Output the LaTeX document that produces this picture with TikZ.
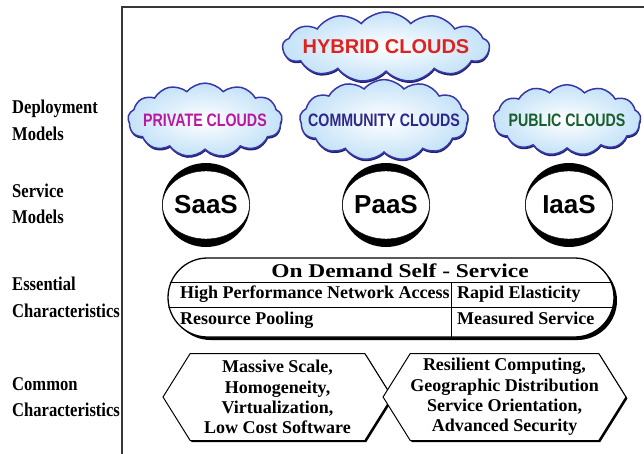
\documentclass[tikz,border=0pt]{standalone}
\usepackage{fontspec}
\setmainfont{Liberation Serif}
\setsansfont{Liberation Sans}
\newfontfamily\sidefont[FakeStretch=0.85]{Liberation Serif}
\newfontfamily\narrowsans[FakeStretch=0.79]{Liberation Sans}
\newfontfamily\widefont[FakeStretch=1.2]{Liberation Serif}
\usetikzlibrary{shapes.symbols,shadows}

\definecolor{hybridred}{RGB}{222,34,30}
\definecolor{privmag}{RGB}{185,25,160}
\definecolor{commblue}{RGB}{45,40,140}
\definecolor{pubgreen}{RGB}{25,95,45}
\definecolor{cloudedge}{RGB}{55,55,170}
\definecolor{cloudfill}{RGB}{196,226,248}
\definecolor{framegray}{RGB}{55,55,55}

\tikzset{
  sidelbl/.style={anchor=base west, align=left, inner sep=0pt,
    font=\sidefont\bfseries\fontsize{19.5}{26.5}\selectfont},
  cloudbox/.style={cloud, cloud puffs=13, cloud puff arc=100,
    draw=cloudedge, line width=1.5pt, inner color=white, outer color=cloudfill,
    drop shadow={shadow xshift=0.5pt, shadow yshift=-2pt, fill=cloudedge!60!black, opacity=1},
    inner ysep=0pt, font=\narrowsans\bfseries\fontsize{18}{20}\selectfont},
  svctext/.style={inner sep=0pt, font=\sffamily\bfseries\fontsize{26}{28}\selectfont},
  esstext/.style={anchor=base west, inner sep=0pt,
    font=\bfseries\fontsize{18}{20}\selectfont},
  hexbox/.style={signal, signal to=west and east, signal pointer angle=116,
    draw, line width=1pt, fill=white, minimum width=229pt, minimum height=87pt,
    inner sep=0pt, align=center,
    drop shadow={shadow xshift=1.5pt, shadow yshift=-1.5pt, fill=black, opacity=1},
    font=\bfseries\fontsize{18}{20.3}\selectfont}
}

\begin{document}
\begin{tikzpicture}[x=1pt,y=-1pt]
\useasboundingbox (0,0) rectangle (644,454);

% Frame
\draw[framegray, line width=2.4pt] (122,454) -- (122,7) -- (644,7);

% Row labels
\node[sidelbl] (deplbl) at (12,140.5) {Deployment\\Models};
\node[sidelbl] (svclbl) at (12,223.5) {Service\\Models};
\node[sidelbl] (esslbl) at (12,317) {Essential\\Characteristics};
\node[sidelbl] (comlbl) at (12,416.5) {Common\\Characteristics};

% Deployment models
\node[cloudbox, aspect=4.3, inner xsep=-10pt, text=hybridred,
  font=\sffamily\bfseries\fontsize{20}{22}\selectfont] (hybrid) at (386,47) {HYBRID CLOUDS};
\node[cloudbox, aspect=2.6, inner xsep=-8pt, text=privmag] (private) at (205,120) {PRIVATE CLOUDS};
\node[cloudbox, aspect=2.6, inner xsep=-17pt, text=commblue] (community) at (384,120) {COMMUNITY CLOUDS};
\node[cloudbox, aspect=2.6, inner xsep=-7pt, text=pubgreen] (public) at (567,120) {PUBLIC CLOUDS};

% Service models
\foreach \nm/\x/\txt in {saas/206/SaaS, paas/386/PaaS, iaas/569/IaaS} {
  \fill (\x,205) ellipse [x radius=44pt, y radius=42pt];
  \filldraw[fill=white, thin] (\x,205) ellipse [x radius=43.5pt, y radius=34pt];
  \node[svctext] (\nm) at (\x,205) {\txt};
}

% Essential characteristics
\node[draw, line width=1.3pt, fill=white, rounded corners=39.5pt,
  minimum width=446pt, minimum height=79pt,
  drop shadow={shadow xshift=3pt, shadow yshift=-3pt, fill=black, opacity=1}] (ess) at (391,297.5) {};
\begin{scope}
  \clip[rounded corners=39.5pt] (ess.south west) rectangle (ess.north east);
  \draw[thin] (ess.west |- 0,282) -- (ess.east |- 0,282);
  \draw[thin] (ess.west |- 0,307) -- (ess.east |- 0,307);
  \draw[thin] (451,282) -- (ess.south -| 451,0);
\end{scope}
\node[anchor=base, inner sep=0pt, font=\widefont\bfseries\fontsize{19.5}{21}\selectfont] (demand) at (400,277) {On Demand Self - Service};
\node[esstext] (network) at (180,298) {High Performance Network Access};
\node[esstext] (elastic) at (457,298) {Rapid Elasticity};
\node[esstext] (pooling) at (180,324) {Resource Pooling};
\node[esstext] (measured) at (457,324) {Measured Service};

% Common characteristics
\node[hexbox] (comleft) at (277.5,397) {Massive Scale,\\Homogeneity,\\Virtualization,\\Low Cost Software};
\node[hexbox, minimum width=225pt] (comright) at (504.5,397) {Resilient Computing,\\Geographic Distribution\\Service Orientation,\\Advanced Security};

\end{tikzpicture}
\end{document}
